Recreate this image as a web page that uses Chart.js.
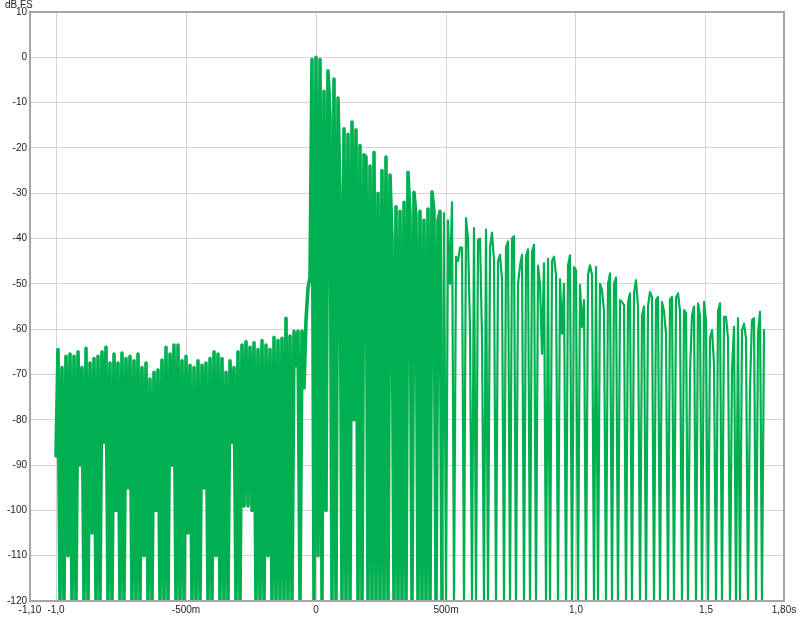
<!DOCTYPE html>
<html>
<head>
<meta charset="utf-8">
<script src="https://cdn.jsdelivr.net/npm/chart.js@4.4.1/dist/chart.umd.min.js"></script>
<style>
  html, body { margin: 0; padding: 0; background: #fff; }
  #wrap { width: 800px; height: 619px; }
</style>
</head>
<body>
<div id="wrap"><canvas id="irChart" width="800" height="619"></canvas></div>
<script>
// sample grid: first sample at -1.0 s, one sample every 1/130 s
const startTime = -1.0;
const sampleStep = 1 / 130;

// pre-ringing / noise floor before the impulse (dB FS)
const noiseDb = [
  -88, -64.5, -120, -68.5, -120, -66, -110, -65.5, -120, -66,
  -120, -65, -90, -68.5, -120, -64.2, -120, -67.5, -105, -66.5,
  -120, -66, -120, -65, -85, -64, -120, -67.5, -120, -65.5,
  -100, -67.5, -120, -65.3, -120, -66.5, -95, -66, -120, -67,
  -120, -65.5, -120, -68.5, -110, -67.5, -120, -71, -120, -69.5,
  -100, -69, -120, -66.8, -120, -64, -120, -65.5, -90, -63.5,
  -120, -63.5, -120, -67, -120, -66, -105, -68, -120, -68.5,
  -120, -67, -120, -68, -95, -67.5, -120, -66.5, -120, -65,
  -110, -65.5, -120, -66.5, -120, -69.5, -120, -67, -85, -68.5,
  -120, -65, -120, -63.5, -99, -62.8, -99, -64, -100, -63,
  -120, -64.5, -120, -62.5, -120, -63.5, -110, -64.5, -120, -61.8,
  -120, -62.5, -120, -62, -120, -57.6, -120, -61.5, -120, -60.5,
  -68, -60.5, -120, -60.5, -73
];

// onset and early decay
const onsetDb = [
  -58, -51, -48.5, -0.5, -120, 0, -110, -0.5, -120, -7.5,
  -100, -3, -13, -120, -4.8, -120, -9, -30, -120, -15.8,
  -120, -17, -120, -14.3, -80, -16, -120, -19.5, -120, -21.5,
  -22, -120, -24, -120, -21, -120, -30, -120, -25, -120,
  -22, -120, -26, -40, -120, -33, -120, -34, -120, -32,
  -120, -25.4, -35, -120, -29.8, -35, -120, -34, -120, -36,
  -120, -33.5, -120, -29.7, -34, -120, -36, -34, -120
];

// late decay, separated lobes
const tailDb = [
  -34.4, -120, -36, -50, -32, -120, -44, -45, -42, -42,
  -120, -35.5, -40, -60, -120, -37.7, -120, -40.3, -40, -62,
  -120, -38, -120, -42, -38.7, -45, -120, -45, -43.6, -49,
  -120, -42, -40.6, -120, -40, -39.5, -120, -50, -46, -43.6,
  -120, -44, -42.4, -120, -43, -41.4, -120, -46, -50, -65.4,
  -45.5, -120, -44.5, -120, -45, -44, -48, -120, -49, -61,
  -50, -120, -46, -43.7, -120, -46.3, -47, -120, -50.3, -59.5,
  -53.6, -120, -48, -45.9, -48, -120, -46.3, -120, -50, -51.4,
  -56, -120, -50, -47.7, -120, -50, -48.6, -120, -53.6, -54,
  -54.7, -120, -54, -52.1, -120, -52, -49.2, -55, -120, -57,
  -55, -120, -55, -51.8, -53, -120, -53.6, -52.9, -120, -54,
  -56, -61, -120, -53.5, -52.9, -120, -53, -52.1, -56, -120,
  -55.8, -56.5, -120, -69.8, -57, -55, -120, -54.3, -57, -120,
  -54, -58, -120, -62, -60.2, -67.6, -120, -56, -54.3, -120,
  -57.3, -57.3, -62, -120, -69, -59.5, -120, -57.6, -120, -60.2,
  -58.8, -62, -120, -72.7, -58, -57.6, -120, -61, -56.2, -120,
  -60.2
];

const xTickVals = [-1.1, -1.0, -0.5, 0, 0.5, 1.0, 1.5, 1.8];
const xTickLabels = ['-1,10', '-1,0', '-500m', '0', '500m', '1,0', '1,5', '1,80s'];
const yUnit = 'dB FS';

const allDb = noiseDb.concat(onsetDb, tailDb);
const points = allDb.map((v, i) => ({ x: startTime + i * sampleStep, y: v }));

// dense part (noise + onset) drawn with a heavier stroke, tail with a thin one
const denseEnd = noiseDb.length + onsetDb.length;
const densePts = points.slice(0, denseEnd);
const tailPts = points.slice(denseEnd - 1);

const frame = {
  id: 'frame',
  afterDraw(chart) {
    const a = chart.chartArea;
    const ctx = chart.ctx;
    ctx.save();
    ctx.strokeStyle = '#a6a6a6';
    ctx.lineWidth = 2;
    ctx.strokeRect(a.left, a.top, a.right - a.left, a.bottom - a.top);
    ctx.fillStyle = '#222';
    ctx.font = '10px "Liberation Sans", Arial, sans-serif';
    ctx.textBaseline = 'top';
    ctx.textAlign = 'left';
    ctx.fillText(yUnit, 5, 0);
    ctx.restore();
  }
};

const lineStyle = {
  borderColor: '#00b050',
  pointRadius: 0,
  tension: 0,
  fill: false,
  borderJoinStyle: 'round',
  borderCapStyle: 'round'
};

new Chart(document.getElementById('irChart').getContext('2d'), {
  type: 'line',
  data: {
    datasets: [
      Object.assign({ data: densePts, borderWidth: 3.6 }, lineStyle),
      Object.assign({ data: tailPts, borderWidth: 2.2 }, lineStyle)
    ]
  },
  options: {
    responsive: false,
    animation: false,
    parsing: false,
    normalized: true,
    layout: { padding: { top: 12, right: 16, bottom: 0, left: 0 } },
    plugins: { legend: { display: false }, tooltip: { enabled: false } },
    scales: {
      x: {
        type: 'linear',
        min: -1.1,
        max: 1.8,
        afterBuildTicks: (scale) => { scale.ticks = xTickVals.map(v => ({ value: v })); },
        afterFit: (scale) => { scale.height = 18; },
        grid: { color: '#d4d4d4', lineWidth: 1, drawTicks: false },
        border: { display: false },
        ticks: {
          autoSkip: false,
          maxRotation: 0,
          padding: 3,
          color: '#222',
          font: { family: '"Liberation Sans", Arial, sans-serif', size: 10 },
          callback: (v) => {
            const k = xTickVals.findIndex(t => Math.abs(t - v) < 1e-6);
            return k >= 0 ? xTickLabels[k] : '';
          }
        }
      },
      y: {
        min: -120,
        max: 10,
        afterFit: (scale) => { scale.width = 30; },
        grid: { color: '#d4d4d4', lineWidth: 1, drawTicks: false },
        border: { display: false },
        ticks: {
          stepSize: 10,
          padding: 3,
          color: '#222',
          font: { family: '"Liberation Sans", Arial, sans-serif', size: 10 }
        }
      }
    }
  },
  plugins: [frame]
});
</script>
</body>
</html>
